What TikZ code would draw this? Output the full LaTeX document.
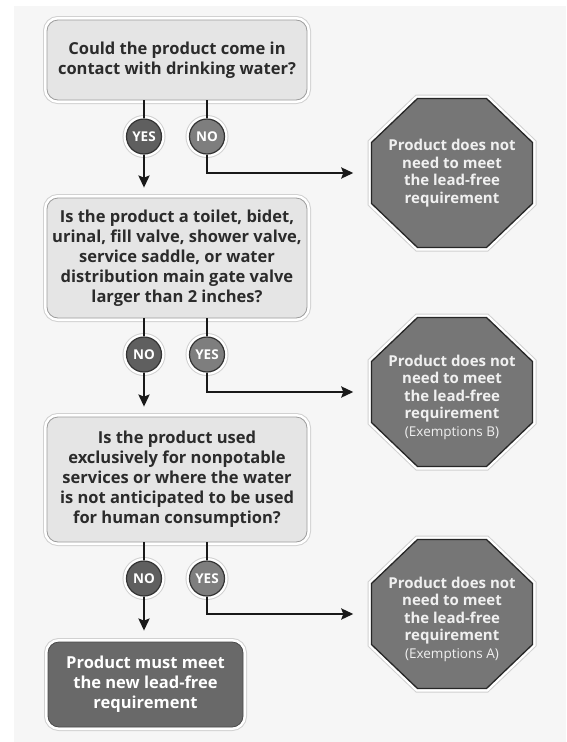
\documentclass[tikz,border=0pt]{standalone}
\usepackage{fontspec}
\setmainfont{Open Sans}
\usetikzlibrary{positioning,arrows.meta}

\definecolor{bgpage}{HTML}{F6F6F6}
\definecolor{boxfill}{HTML}{E5E5E5}
\definecolor{boxline}{HTML}{9C9C9C}
\definecolor{inktext}{HTML}{2B2B2B}
\definecolor{stopfill}{HTML}{767676}
\definecolor{darkfill}{HTML}{696969}
\definecolor{mainball}{HTML}{5F5F5F}
\definecolor{sideball}{HTML}{7E7E7E}

\tikzset{
  halo/.style={preaction={draw=black!18, line width=8pt}, preaction={draw=white, line width=6pt}},
  question/.style={halo, rectangle, rounded corners=11pt, fill=boxfill, draw=boxline, line width=0.8pt,
    text=inktext, font=\bfseries\fontsize{16.5}{20}\selectfont, align=center, minimum width=260pt},
  verdict/.style={question, fill=darkfill, draw=darkfill!70!black, text=white, minimum width=195pt},
  ball/.style={circle, halo, draw=black!80, line width=1.2pt, fill=mainball, text=white,
    font=\bfseries\fontsize{13.5}{14}\selectfont, minimum size=35pt, inner sep=0pt},
  sideball/.style={ball, fill=sideball},
  stopnode/.style={rectangle, minimum width=161pt, minimum height=149pt, text=white!94!black,
    font=\bfseries\fontsize{15}{17.5}\selectfont, align=center},
  stopline/.style={halo, draw=black!85, line width=1.3pt, fill=stopfill},
  stem/.style={draw=black!90, line width=2.4pt},
  flow/.style={stem, -{Stealth[length=12pt,width=11pt,inset=2pt]}}
}

% octagon drawn first, then its text node on top
\newcommand{\stopsign}[3]{%
  \path[stopline] (#2) ++(-34.5,74.5) -- ++(69,0) -- ++(46,-44) -- ++(0,-61) -- ++(-46,-44)
    -- ++(-69,0) -- ++(-46,44) -- ++(0,61) -- cycle;
  \node[stopnode] (#1) at (#2) {#3};}
\newcommand{\exempt}[1]{\\{\mdseries\fontsize{13.5}{19}\selectfont #1}}

\begin{document}
\begin{tikzpicture}[x=1pt, y=1pt]
  \useasboundingbox (0,0) rectangle (566,-742);
  \fill[bgpage] (14,-6) rectangle (566,-742);

  % questions
  \node[question, minimum height=80pt] (q1) at (177,-60) {Could the product come in\\ contact with drinking water?};
  \node[question, minimum height=120pt] (q2) at (177,-258) {Is the product a toilet, bidet,\\ urinal, fill valve, shower valve,\\ service saddle, or water\\ distribution main gate valve\\ larger than 2 inches?};
  \node[question, minimum height=125pt] (q3) at (177,-479.5) {Is the product used\\ exclusively for nonpotable\\ services or where the water\\ is not anticipated to be used\\ for human consumption?};
  \node[verdict, minimum height=85pt] (must) at (145.5,-684.5) {Product must meet\\ the new lead-free\\ requirement};

  % answers
  \node[ball, below=18pt of q1, xshift=-33pt] (yes1) {YES};
  \node[sideball, below=18pt of q1, xshift=30pt] (no1) {NO};
  \node[ball, below=18pt of q2, xshift=-33pt] (no2) {NO};
  \node[sideball, below=18pt of q2, xshift=30pt] (yes2) {YES};
  \node[ball, below=18pt of q3, xshift=-33pt] (no3) {NO};
  \node[sideball, below=18pt of q3, xshift=30pt] (yes3) {YES};

  % stop signs
  \stopsign{stop1}{452,-173}{Product does not\\ need to meet\\ the lead-free\\ requirement}
  \stopsign{stop2}{452,-392}{\rule{0pt}{22pt}Product does not\\ need to meet\\ the lead-free\\ requirement\exempt{(Exemptions B)}}
  \stopsign{stop3}{452,-614}{\rule{0pt}{22pt}Product does not\\ need to meet\\ the lead-free\\ requirement\exempt{(Exemptions A)}}

  % connectors
  \foreach \q/\a/\b in {q1/yes1/no1, q2/no2/yes2, q3/no3/yes3} {
    \draw[stem] (\q.south -| \a) -- (\a);
    \draw[stem] (\q.south -| \b) -- (\b);
  }
  \draw[flow, shorten >=10pt] (yes1) -- (yes1 |- q2.north);
  \draw[flow, shorten >=10pt] (no2) -- (no2 |- q3.north);
  \draw[flow, shorten >=11pt] (no3) -- (no3 |- must.north);
  \draw[flow, shorten >=18pt] (no1) |- (stop1.west);
  \draw[flow, shorten >=18pt] (yes2) |- (stop2.west);
  \draw[flow, shorten >=18pt] (yes3) |- (stop3.west);
\end{tikzpicture}
\end{document}
